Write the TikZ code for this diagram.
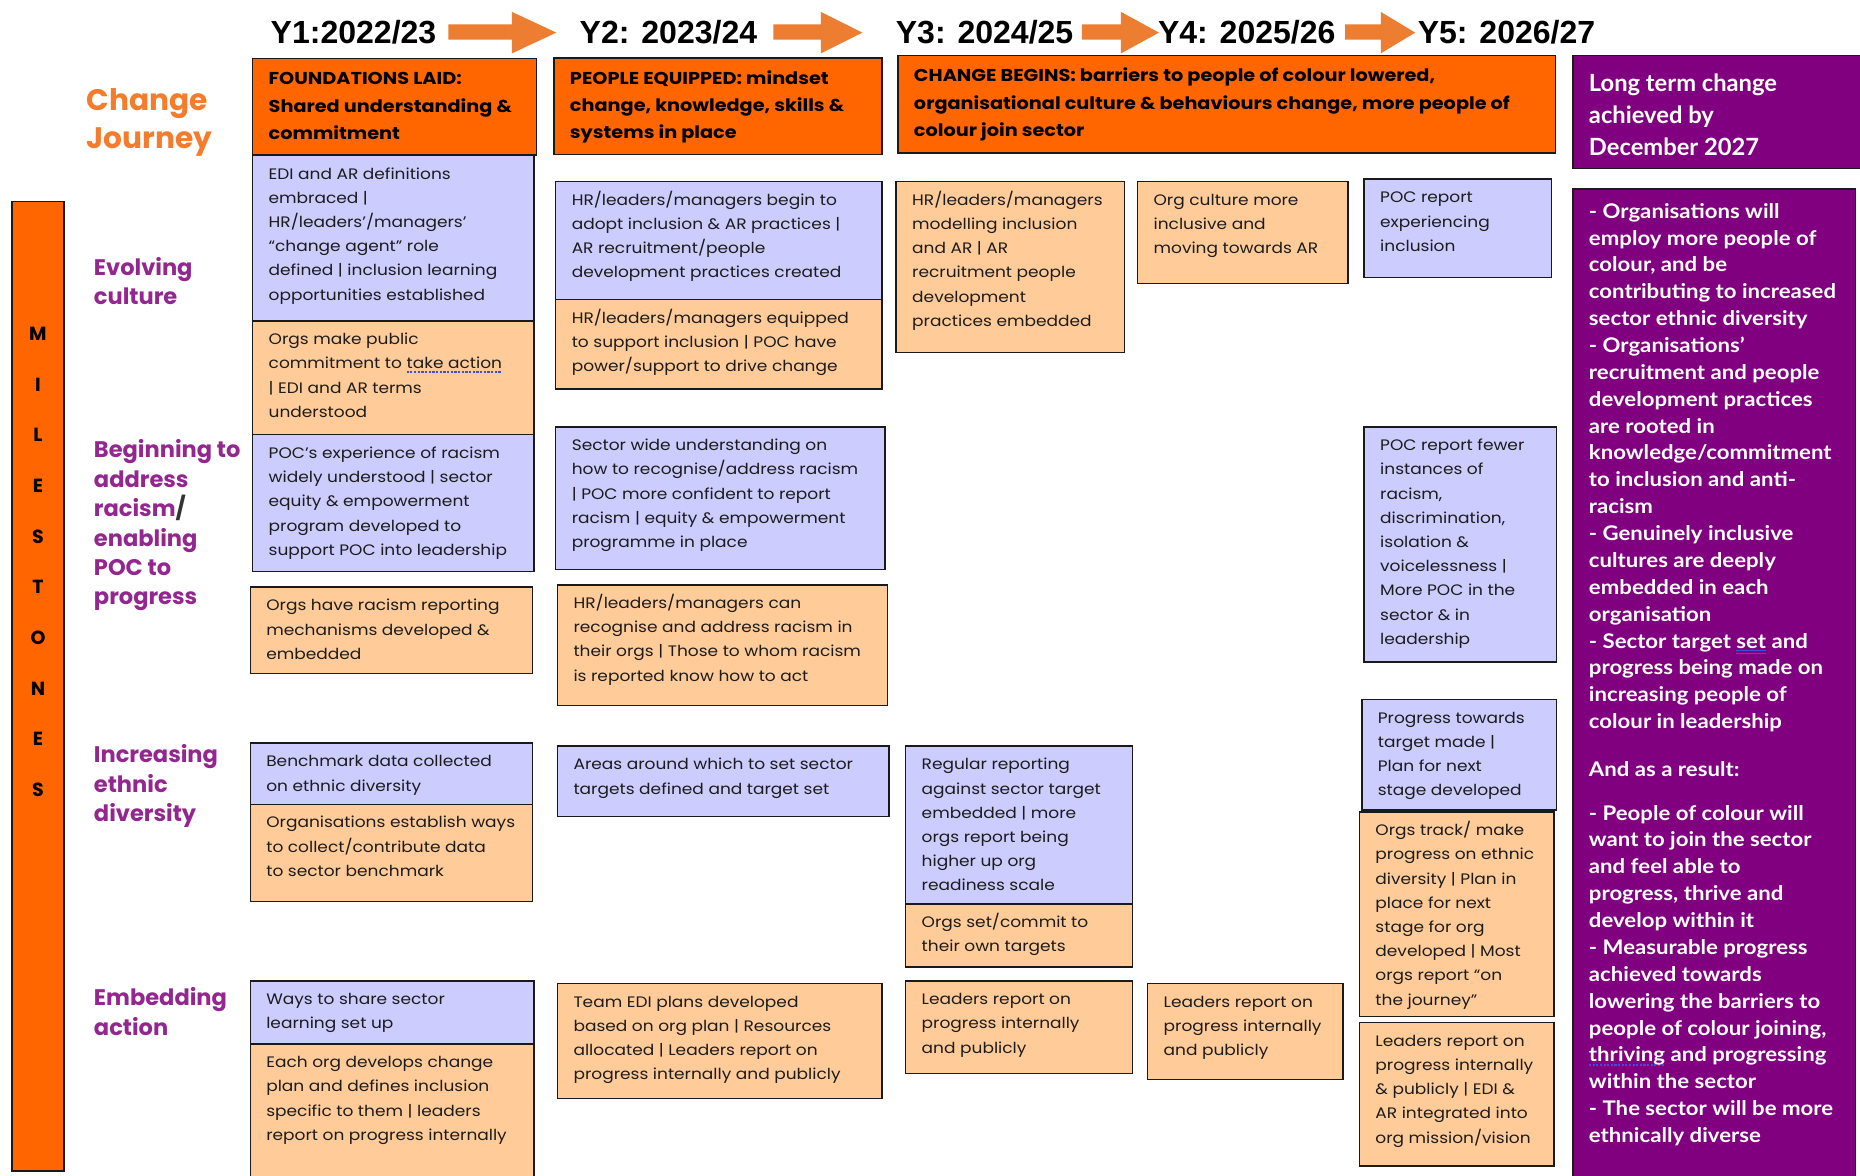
\documentclass[tikz,border=0pt]{standalone}
\usepackage{fontspec}
\setmainfont{Poppins}[FakeStretch=1.12]
\newfontfamily\popplain{Poppins}
\newfontfamily\yfont{Liberation Sans}
\newfontfamily\pfont{Lato}
\newfontfamily\pfontw{Lato}[FakeStretch=1.1]
\definecolor{phaseorange}{HTML}{FF6600}
\definecolor{boxblue}{HTML}{CCCCFF}
\definecolor{boxpeach}{HTML}{FFCC99}
\definecolor{ltpurple}{HTML}{800080}
\definecolor{arrowc}{HTML}{ED7D31}
\definecolor{cjorange}{HTML}{F47C2C}
\definecolor{mspurple}{HTML}{93278F}
\definecolor{edge}{HTML}{1A1A1A}
\definecolor{ulblue}{HTML}{3F4FD8}
\definecolor{bodytext}{HTML}{1C1C1C}
\newlength\firstoff
\newcommand\bodyf{\color{bodytext}\fontsize{12.8}{20.4}\selectfont\setlength\firstoff{20pt}}
\newcommand\phasef{\color{black}\bfseries\fontsize{14.5}{23}\selectfont\setlength\firstoff{22pt}}
\newcommand\lthead{\pfont\bfseries\color{white}\fontsize{20}{26.7}\selectfont\setlength\firstoff{30.3pt}}
\newcommand\ltbody{\pfontw\bfseries\color{white}\fontsize{17}{22.65}\selectfont\setlength\firstoff{24.4pt}}
\newcommand\cjf{\popplain\bfseries\color{cjorange}\fontsize{25}{32}\selectfont}
\newcommand\msf{\popplain\bfseries\color{mspurple}\fontsize{19}{24.8}\selectfont}
% proofing marks under words
\newcommand\dotul[1]{\leavevmode\setbox0\hbox{#1}\rlap{\raisebox{-3.2pt}{\color{ulblue}\hbox to \wd0{\xleaders\hbox to 3pt{\rule{1.8pt}{1.3pt}\hss}\hfill}}}\box0\relax}
\newcommand\dblul[1]{\leavevmode\setbox0\hbox{#1}\rlap{\color{ulblue}\raisebox{-2.6pt}{\rule{\wd0}{0.9pt}}}\rlap{\color{ulblue}\raisebox{-4.8pt}{\rule{\wd0}{0.9pt}}}\box0\relax}
% name, style, x1, y1, x2, y2, font setup, text
\newcommand\cell[8]{%
  \node[#2] (#1) at (#3,#4) {\parbox[t][\dimexpr#6pt-#4pt\relax][t]{\dimexpr#5pt-#3pt\relax}{%
    #7\parindent0pt\leftskip13.5pt\rightskip0pt plus 1fil\relax
    \rule{0pt}{\firstoff}#8\par}};}
% name, x, baseline y, font, text
\newcommand\lbl[5]{\node[anchor=base west, inner sep=0pt] (#1) at (#2,#3)
  {#4\parbox[t]{200pt}{\raggedright #5}};}
% x start, head start, tip
\newcommand\blockarrow[3]{\fill[arrowc] (#1,20.5) -- (#2,20.5) -- (#2,10) -- (#3,27.5)
  -- (#2,45) -- (#2,33.5) -- (#1,33.5) -- cycle;}
\tikzset{
  cellbase/.style={draw=edge, line width=1.2pt, inner sep=0pt, outer sep=0pt, anchor=north west},
  bluebox/.style={cellbase, fill=boxblue},
  peachbox/.style={cellbase, fill=boxpeach},
  phasebox/.style={cellbase, fill=phaseorange},
  purplebox/.style={cellbase, fill=ltpurple},
  yr/.style={anchor=base west, inner sep=0pt, font=\yfont\bfseries\fontsize{27}{30}\selectfont}
}
\begin{document}
\begin{tikzpicture}[x=1pt,y=-1pt]
\fill[white] (0,0) rectangle (1568,991);
\useasboundingbox (0,0) rectangle (1568,991);

% year headers
\node[yr] (y1) at (228,36.5) {Y1:2022/23};
\node[yr] (y2) at (488.5,36.5) {Y2: 2023/24};
\node[yr] (y3) at (755,36.5) {Y3: 2024/25};
\node[yr] (y4) at (976,36.5) {Y4: 2025/26};
\node[yr] (y5) at (1195,36.5) {Y5: 2026/27};
\blockarrow{378}{431.5}{469}
\blockarrow{652}{692}{727}
\blockarrow{912}{945}{977}
\blockarrow{1134}{1164}{1193}

% left labels
\lbl{cj}{73}{93}{\cjf}{Change\\Journey}
\cell{msbar}{phasebox}{10}{170}{54}{987}{\bodyf}{}
\node[anchor=base, inner sep=0pt] (msletters) at (32,287)
  {\parbox[t]{30pt}{\centering\popplain\bfseries\fontsize{16}{42.7}\selectfont M\\I\\L\\E\\S\\T\\O\\N\\E\\S}};
\lbl{ev}{79}{232}{\msf}{Evolving\\culture}
\lbl{br}{79}{386}{\msf}{Beginning to\\address\\racism{\color{black!80}/}\\enabling\\POC to\\progress}
\lbl{ie}{79}{643}{\msf}{Increasing\\ethnic\\diversity}
\lbl{ea}{79}{848}{\msf}{Embedding\\action}

% phase boxes
\cell{ph1}{phasebox}{213}{49.5}{452.5}{130.5}{\phasef}{FOUNDATIONS LAID:\\Shared understanding \&\\commitment}
\cell{ph2}{phasebox}{467}{49}{743.5}{130}{\phasef}{PEOPLE EQUIPPED: mindset\\change, knowledge, skills \&\\systems in place}
\cell{ph3}{phasebox}{757}{47}{1311.5}{129}{\phasef}{CHANGE BEGINS: barriers to people of colour lowered,\\organisational culture \& behaviours change, more people of\\colour join sector}
\cell{lt}{purplebox}{1326}{47}{1580}{142}{\lthead}{Long term change\\achieved by\\December 2027}

% column 1
\cell{a1}{bluebox}{213}{131}{450}{270.5}{\bodyf}{EDI and AR definitions\\embraced |\\HR/leaders’/managers’\\“change agent” role\\defined | inclusion learning\\opportunities established}
\cell{a2}{peachbox}{213}{270.5}{450}{366.5}{\bodyf}{Orgs make public\\commitment to \dotul{take action}\\| EDI and AR terms\\understood}
\cell{b1}{bluebox}{213}{366.5}{450}{482}{\bodyf}{POC’s experience of racism\\widely understood | sector\\equity \& empowerment\\program developed to\\support POC into leadership}
\cell{b2}{peachbox}{211}{495}{449}{568}{\bodyf}{Orgs have racism reporting\\mechanisms developed \&\\embedded}
\cell{c1}{bluebox}{211}{626.5}{449}{678}{\bodyf}{Benchmark data collected\\on ethnic diversity}
\cell{c2}{peachbox}{211}{678}{449}{760}{\bodyf}{Organisations establish ways\\to collect/contribute data\\to sector benchmark}
\cell{d1}{bluebox}{211}{827}{450}{880}{\bodyf}{Ways to share sector\\learning set up}
\cell{d2}{peachbox}{211}{880}{450}{1000}{\bodyf}{Each org develops change\\plan and defines inclusion\\specific to them | leaders\\report on progress internally}

% column 2
\cell{e1}{bluebox}{468.5}{153}{743.5}{252.5}{\bodyf}{HR/leaders/managers begin to\\adopt inclusion \& AR practices |\\AR recruitment/people\\development practices created}
\cell{e2}{peachbox}{468.5}{252.5}{743.5}{328}{\bodyf}{HR/leaders/managers equipped\\to support inclusion | POC have\\power/support to drive change}
\cell{f1}{bluebox}{468.5}{360}{746}{480}{\bodyf}{Sector wide understanding on\\how to recognise/address racism\\| POC more confident to report\\racism | equity \& empowerment\\programme in place}
\cell{f2}{peachbox}{470}{493}{748}{594.5}{\bodyf}{HR/leaders/managers can\\recognise and address racism in\\their orgs | Those to whom racism\\is reported know how to act}
\cell{g1}{bluebox}{470}{629}{749.5}{688.5}{\bodyf}{Areas around which to set sector\\targets defined and target set}
\cell{h1}{peachbox}{470}{829}{743.5}{926}{\bodyf}{Team EDI plans developed\\based on org plan | Resources\\allocated | Leaders report on\\progress internally and publicly}

% column 3
\cell{i1}{peachbox}{755.5}{153}{948}{297}{\bodyf}{HR/leaders/managers\\modelling inclusion\\and AR | AR\\recruitment people\\development\\practices embedded}
\cell{j1}{bluebox}{763.5}{629}{954.5}{762}{\bodyf}{Regular reporting\\against sector target\\embedded | more\\orgs report being\\higher up org\\readiness scale}
\cell{j2}{peachbox}{763.5}{762}{954.5}{815}{\bodyf}{Orgs set/commit to\\their own targets}
\cell{k1}{peachbox}{763.5}{827}{954.5}{905}{\bodyf}{Leaders report on\\progress internally\\and publicly}

% column 4
\cell{l1}{peachbox}{959}{153}{1136.5}{239}{\bodyf}{Org culture more\\inclusive and\\moving towards AR}
\cell{m1}{peachbox}{967.5}{829}{1132}{910}{\bodyf}{Leaders report on\\progress internally\\and publicly}

% column 5
\cell{n1}{bluebox}{1150}{151}{1308}{234}{\bodyf}{POC report\\experiencing\\inclusion}
\cell{o1}{bluebox}{1150}{360}{1312}{558}{\bodyf}{POC report fewer\\instances of\\racism,\\discrimination,\\isolation \&\\voicelessness |\\More POC in the\\sector \& in\\leadership}
\cell{p1}{bluebox}{1148}{589.5}{1312}{683}{\bodyf}{Progress towards\\target made |\\Plan for next\\stage developed}
\cell{p2}{peachbox}{1146}{684.5}{1310}{857}{\bodyf}{Orgs track/ make\\progress on ethnic\\diversity | Plan in\\place for next\\stage for org\\developed | Most\\orgs report “on\\the journey”}
\cell{q1}{peachbox}{1146}{862}{1310}{983}{\bodyf}{Leaders report on\\progress internally\\\& publicly | EDI \&\\AR integrated into\\org mission/vision}

% long term body
\cell{lb}{purplebox}{1326}{159.5}{1564}{1000}{\ltbody}{- Organisations will\\employ more people of\\colour, and be\\contributing to increased\\sector ethnic diversity\\- Organisations’\\recruitment and people\\development practices\\are rooted in\\knowledge/commitment\\to inclusion and anti-\\racism\\- Genuinely inclusive\\cultures are deeply\\embedded in each\\organisation\\- Sector target \dblul{set} and\\progress being made on\\increasing people of\\colour in leadership\\[17.4pt]And as a result:\\[14.4pt]- People of colour will\\want to join the sector\\and feel able to\\progress, thrive and\\develop within it\\- Measurable progress\\achieved towards\\lowering the barriers to\\people of colour joining,\\\dotul{thriving} and progressing\\within the sector\\- The sector will be more\\ethnically diverse}
\end{tikzpicture}
\end{document}
